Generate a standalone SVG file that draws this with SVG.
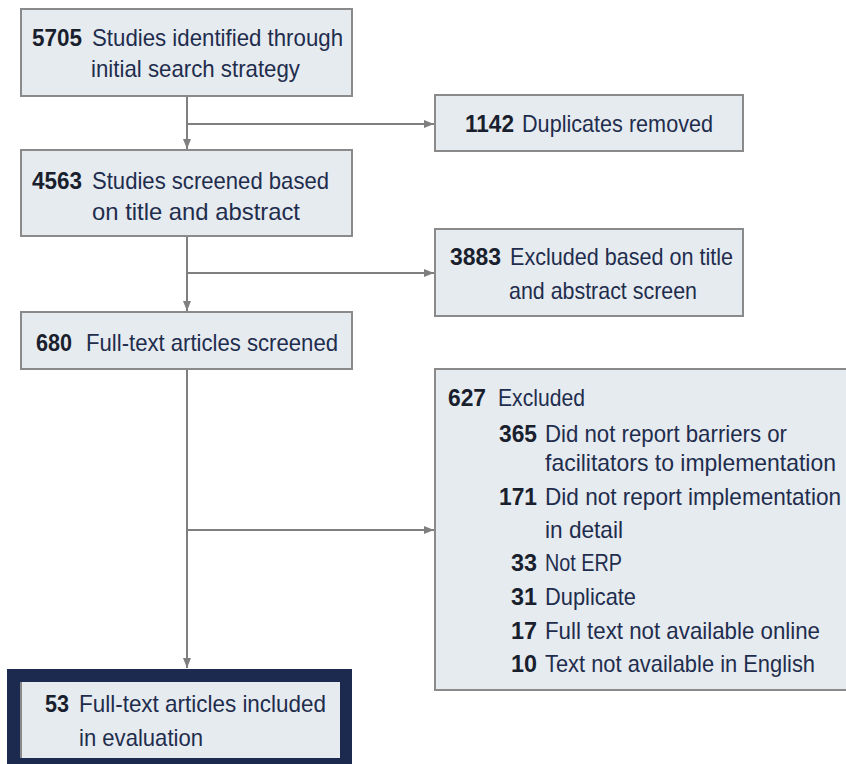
<svg xmlns="http://www.w3.org/2000/svg" width="846" height="764" viewBox="0 0 846 764">
<defs>
<marker id="arr" markerWidth="10" markerHeight="8" refX="10" refY="4" orient="auto" markerUnits="userSpaceOnUse">
<path d="M0,0 L10,4 L0,8 Z" fill="#7f7f7f"/>
</marker>
</defs>
<style>
.box{fill:#e6ebf0;stroke:#8a8a8a;stroke-width:2}
.t{font-family:"Liberation Sans",Arial,sans-serif;font-size:24px;fill:#1f2d4d}
.n{font-family:"Liberation Sans",Arial,sans-serif;font-size:24px;font-weight:bold;fill:#1a1f2e}
.c{fill:none;stroke:#7f7f7f;stroke-width:2}
</style>
<rect width="846" height="764" fill="#ffffff"/>
<g id="connectors">
<path class="c" d="M187,96 V149" marker-end="url(#arr)"/>
<path class="c" d="M187,124 H434" marker-end="url(#arr)"/>
<path class="c" d="M187,236 V311" marker-end="url(#arr)"/>
<path class="c" d="M187,273 H434" marker-end="url(#arr)"/>
<path class="c" d="M187,369 V668" marker-end="url(#arr)"/>
<path class="c" d="M187,530 H434" marker-end="url(#arr)"/>
</g>
<g id="n5705">
<rect class="box" x="21" y="9" width="331" height="87"/>
<text class="n" x="32" y="46" textLength="50" lengthAdjust="spacingAndGlyphs">5705</text>
<text class="t" x="92" y="46" textLength="251" lengthAdjust="spacingAndGlyphs">Studies identified through</text>
<text class="t" x="91" y="77" textLength="209" lengthAdjust="spacingAndGlyphs">initial search strategy</text>
</g>
<g id="n1142">
<rect class="box" x="435" y="95" width="308" height="56"/>
<text class="n" x="465" y="132" textLength="49" lengthAdjust="spacingAndGlyphs">1142</text>
<text class="t" x="522" y="132" textLength="191" lengthAdjust="spacingAndGlyphs">Duplicates removed</text>
</g>
<g id="n4563">
<rect class="box" x="21" y="150" width="331" height="86"/>
<text class="n" x="32" y="189" textLength="50" lengthAdjust="spacingAndGlyphs">4563</text>
<text class="t" x="92" y="189" textLength="237" lengthAdjust="spacingAndGlyphs">Studies screened based</text>
<text class="t" x="92" y="220" textLength="208" lengthAdjust="spacingAndGlyphs">on title and abstract</text>
</g>
<g id="n3883">
<rect class="box" x="435" y="229" width="308" height="87"/>
<text class="n" x="450" y="265" textLength="51" lengthAdjust="spacingAndGlyphs">3883</text>
<text class="t" x="510" y="265" textLength="223" lengthAdjust="spacingAndGlyphs">Excluded based on title</text>
<text class="t" x="509" y="299" textLength="188" lengthAdjust="spacingAndGlyphs">and abstract screen</text>
</g>
<g id="n680">
<rect class="box" x="21" y="312" width="331" height="57"/>
<text class="n" x="36" y="351" textLength="36" lengthAdjust="spacingAndGlyphs">680</text>
<text class="t" x="86" y="351" textLength="252" lengthAdjust="spacingAndGlyphs">Full-text articles screened</text>
</g>
<g id="n627">
<rect class="box" x="435" y="369" width="420" height="321"/>
<text class="n" x="448" y="406" textLength="38" lengthAdjust="spacingAndGlyphs">627</text>
<text class="t" x="498" y="406" textLength="87" lengthAdjust="spacingAndGlyphs">Excluded</text>
<text class="n" x="499" y="442" textLength="38" lengthAdjust="spacingAndGlyphs">365</text>
<text class="t" x="545" y="442" textLength="242" lengthAdjust="spacingAndGlyphs">Did not report barriers or</text>
<text class="t" x="545" y="471" textLength="291" lengthAdjust="spacingAndGlyphs">facilitators to implementation</text>
<text class="n" x="499" y="505" textLength="38" lengthAdjust="spacingAndGlyphs">171</text>
<text class="t" x="545" y="505" textLength="296" lengthAdjust="spacingAndGlyphs">Did not report implementation</text>
<text class="t" x="545" y="538" textLength="78" lengthAdjust="spacingAndGlyphs">in detail</text>
<text class="n" x="511" y="571" textLength="26" lengthAdjust="spacingAndGlyphs">33</text>
<text class="t" x="545" y="571" textLength="77" lengthAdjust="spacingAndGlyphs">Not ERP</text>
<text class="n" x="511" y="605" textLength="26" lengthAdjust="spacingAndGlyphs">31</text>
<text class="t" x="545" y="605" textLength="91" lengthAdjust="spacingAndGlyphs">Duplicate</text>
<text class="n" x="511" y="639" textLength="26" lengthAdjust="spacingAndGlyphs">17</text>
<text class="t" x="545" y="639" textLength="275" lengthAdjust="spacingAndGlyphs">Full text not available online</text>
<text class="n" x="511" y="672" textLength="26" lengthAdjust="spacingAndGlyphs">10</text>
<text class="t" x="545" y="672" textLength="270" lengthAdjust="spacingAndGlyphs">Text not available in English</text>
</g>
<g id="n53">
<rect x="7" y="669" width="345" height="100" fill="#1b2a4e"/>
<rect x="20" y="682" width="320" height="76" fill="#e6ebf0"/>
<line x1="21" y1="682" x2="21" y2="758" stroke="#8a8a8a" stroke-width="2"/>
<text class="n" x="45" y="712" textLength="24" lengthAdjust="spacingAndGlyphs">53</text>
<text class="t" x="79" y="712" textLength="247" lengthAdjust="spacingAndGlyphs">Full-text articles included</text>
<text class="t" x="79" y="746" textLength="124" lengthAdjust="spacingAndGlyphs">in evaluation</text>
</g>
</svg>
